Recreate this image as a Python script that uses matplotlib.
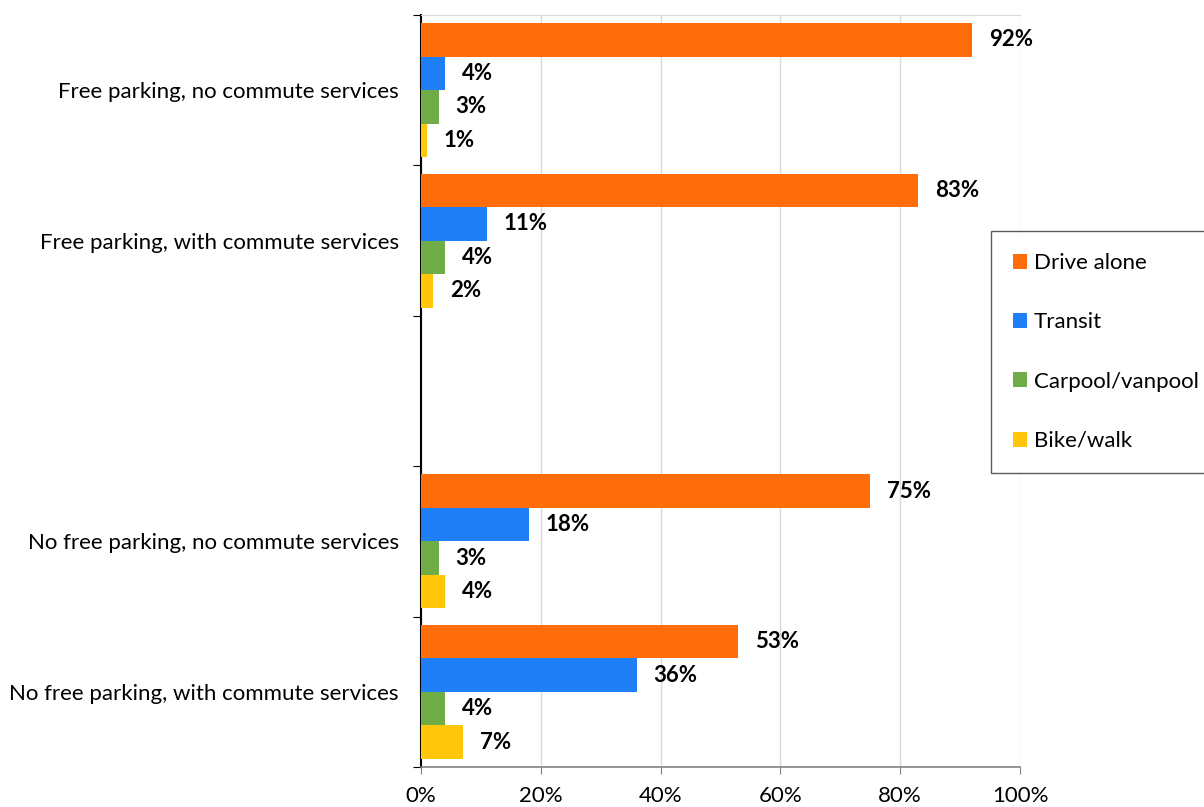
import matplotlib
matplotlib.use('Agg')
import matplotlib.pyplot as plt
import numpy as np

plt.rcParams['font.family'] = ['Lato', 'DejaVu Sans']

# Data (percent of commuters by mode)
categories = [
    'Free parking, no commute services',
    'Free parking, with commute services',
    '',
    'No free parking, no commute services',
    'No free parking, with commute services',
]
modes = ['Drive alone', 'Transit', 'Carpool/vanpool', 'Bike/walk']
drive_alone = [92, 83, None, 75, 53]
transit = [4, 11, None, 18, 36]
carpool = [3, 4, None, 3, 4]
bike_walk = [1, 2, None, 4, 7]
x_ticks = [0, 20, 40, 60, 80, 100]

series = [drive_alone, transit, carpool, bike_walk]
colors = ['#FF6D0A', '#1F7FF7', '#70AD47', '#FFC60A']

fig = plt.figure(figsize=(12.04, 8.07), dpi=100)
ax = fig.add_axes([421 / 1204, 1 - 767 / 807, 599 / 1204, 752 / 807])

h = 0.223
offsets = [-1.5 * h, -0.5 * h, 0.5 * h, 1.5 * h]
pos = np.arange(len(categories))

for vals, col, off, name in zip(series, colors, offsets, modes):
    idx = [i for i, v in enumerate(vals) if v is not None]
    v = [vals[i] for i in idx]
    y = pos[idx] + off
    ax.barh(y, v, height=h, color=col, label=name, zorder=3)
    for yy, vv in zip(y, v):
        ax.annotate(f'{vv}%', (vv, yy), xytext=(12, 0), textcoords='offset points',
                    ha='left', va='center', fontsize=16, fontweight='bold', color='black')

ax.set_xlim(0, 100)
ax.set_ylim(len(categories) - 0.5, -0.5)

# x axis
ax.set_xticks(x_ticks)
ax.set_xticklabels([f'{t}%' for t in x_ticks], fontsize=16)
ax.tick_params(axis='x', direction='out', length=5, color='#808080', pad=9)
ax.grid(axis='x', color='#D9D9D9', linewidth=1, zorder=0)

# y axis: ticks at slot boundaries, labels at slot centers
ax.set_yticks(np.arange(-0.5, len(categories) + 0.5, 1))
ax.set_yticklabels([])
ax.tick_params(axis='y', which='major', direction='out', length=6, color='black')
ax.set_yticks(pos, minor=True)
ax.set_yticklabels(categories, minor=True, fontsize=16)
ax.tick_params(axis='y', which='minor', length=0, pad=16)

ax.spines['left'].set_color('black')
ax.spines['left'].set_linewidth(1.5)
ax.spines['bottom'].set_color('#808080')
ax.spines['bottom'].set_linewidth(1.2)
ax.spines['top'].set_color('#D9D9D9')
ax.spines['right'].set_visible(False)

leg = fig.legend(loc='upper left', bbox_to_anchor=(991 / 1204, 1 - 231 / 807),
                 fontsize=16, frameon=True, fancybox=False, edgecolor='#333333',
                 handlelength=0.65, handleheight=0.65, handletextpad=0.3,
                 labelspacing=1.77, borderpad=0.99, borderaxespad=0)
leg.get_frame().set_linewidth(1)

fig.savefig('out.png', dpi=100)
